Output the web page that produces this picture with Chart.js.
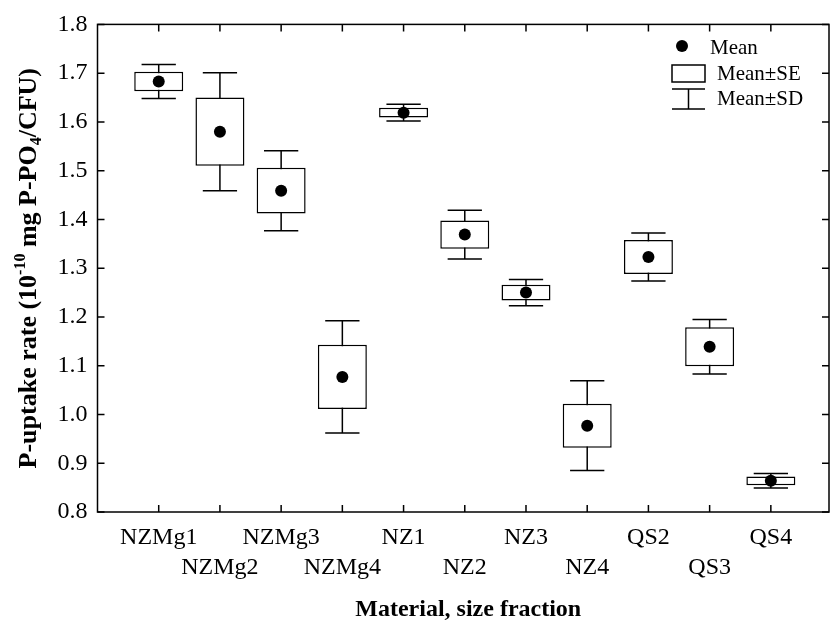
<!DOCTYPE html>
<html>
<head>
<meta charset="utf-8">
<script src="https://cdn.jsdelivr.net/npm/chart.js@4"></script>
<style>
  body { margin: 0; background: #fff; }
  #wrap { width: 835px; height: 623px; }
</style>
</head>
<body>
<div id="wrap"><canvas id="chart" width="835" height="623"></canvas></div>
<script>
// valeurs
const categories = ['NZMg1', 'NZMg2', 'NZMg3', 'NZMg4', 'NZ1', 'NZ2', 'NZ3', 'NZ4', 'QS2', 'QS3', 'QS4']
const means = [1.683, 1.580, 1.459, 1.077, 1.619, 1.369, 1.250, 0.977, 1.323, 1.139, 0.864]
const se = [0.020, 0.070, 0.047, 0.066, 0.010, 0.029, 0.016, 0.045, 0.035, 0.040, 0.009]
const sd = [0.035, 0.121, 0.082, 0.115, 0.017, 0.050, 0.027, 0.092, 0.049, 0.056, 0.015]
const yTicks = [0.8, 0.9, 1.0, 1.1, 1.2, 1.3, 1.4, 1.5, 1.6, 1.7, 1.8]

const serif = "'Liberation Serif', 'Times New Roman', serif"

// moustaches (Mean±SD) dessinées sous les boîtes
const whiskers = {
    id: 'whiskers',
    beforeDatasetsDraw(chart) {
        const ctx = chart.ctx
        const x = chart.scales.x
        const y = chart.scales.y
        ctx.save()
        ctx.strokeStyle = '#000'
        ctx.lineWidth = 1.5
        for (let i = 0; i < categories.length; i++) {
            const px = x.getPixelForValue(i)
            const half = x.getPixelForValue(i + 0.28) - px
            const top = y.getPixelForValue(means[i] + sd[i])
            const bot = y.getPixelForValue(means[i] - sd[i])
            ctx.beginPath()
            ctx.moveTo(px, top); ctx.lineTo(px, bot)
            ctx.moveTo(px - half, top); ctx.lineTo(px + half, top)
            ctx.moveTo(px - half, bot); ctx.lineTo(px + half, bot)
            ctx.stroke()
        }
        ctx.restore()
    }
}

// cadre, graduations vers l'intérieur, titres et légende
const frame = {
    id: 'frame',
    afterDraw(chart) {
        const ctx = chart.ctx
        const a = chart.chartArea
        const x = chart.scales.x
        const y = chart.scales.y
        ctx.save()
        ctx.strokeStyle = '#000'
        ctx.lineWidth = 1.5
        ctx.strokeRect(a.left, a.top, a.right - a.left, a.bottom - a.top)
        ctx.beginPath()
        yTicks.forEach(v => {
            const py = y.getPixelForValue(v)
            ctx.moveTo(a.left, py); ctx.lineTo(a.left + 7, py)
            ctx.moveTo(a.right, py); ctx.lineTo(a.right - 7, py)
        })
        categories.forEach((c, i) => {
            const px = x.getPixelForValue(i)
            ctx.moveTo(px, a.bottom); ctx.lineTo(px, a.bottom - 7)
            ctx.moveTo(px, a.top); ctx.lineTo(px, a.top + 7)
        })
        ctx.stroke()

        // titre axe X
        ctx.fillStyle = '#000'
        ctx.font = 'bold 24px ' + serif
        ctx.textAlign = 'center'
        ctx.textBaseline = 'middle'
        ctx.fillText('Material, size fraction', (a.left + a.right) / 2 + 5, 610)

        // titre axe Y avec exposant et indice
        const parts = [
            { t: 'P-uptake rate (10', f: 'bold 26px ' + serif, dy: 0 },
            { t: '-10', f: 'bold 16px ' + serif, dy: -11 },
            { t: ' mg P-PO', f: 'bold 26px ' + serif, dy: 0 },
            { t: '4', f: 'bold 16px ' + serif, dy: 5 },
            { t: '/CFU)', f: 'bold 26px ' + serif, dy: 0 }
        ]
        let total = 0
        parts.forEach(p => { ctx.font = p.f; p.w = ctx.measureText(p.t).width; total += p.w })
        ctx.translate(36, (a.top + a.bottom) / 2)
        ctx.rotate(-Math.PI / 2)
        ctx.textAlign = 'left'
        ctx.textBaseline = 'alphabetic'
        let cx = -total / 2
        parts.forEach(p => {
            ctx.font = p.f
            ctx.fillText(p.t, cx, p.dy)
            cx += p.w
        })
        ctx.restore()

        // légende
        ctx.save()
        ctx.fillStyle = '#000'
        ctx.strokeStyle = '#000'
        ctx.lineWidth = 1.5
        ctx.beginPath()
        ctx.arc(682, 46, 6, 0, Math.PI * 2)
        ctx.fill()
        ctx.strokeRect(672, 65, 33, 17)
        ctx.beginPath()
        ctx.moveTo(672, 89); ctx.lineTo(705, 89)
        ctx.moveTo(672, 109); ctx.lineTo(705, 109)
        ctx.moveTo(688.5, 89); ctx.lineTo(688.5, 109)
        ctx.stroke()
        ctx.font = '21px ' + serif
        ctx.textAlign = 'left'
        ctx.textBaseline = 'middle'
        ctx.fillText('Mean', 710, 48)
        ctx.fillText('Mean\u00B1SE', 717, 74)
        ctx.fillText('Mean\u00B1SD', 717, 99)
        ctx.restore()
    }
}

const boxData = categories.map((c, i) => ({ x: i, y: [means[i] - se[i], means[i] + se[i]] }))
const meanData = categories.map((c, i) => ({ x: i, y: means[i] }))

new Chart(document.getElementById('chart').getContext('2d'), {
    type: 'bar',
    data: {
        datasets: [
            {
                type: 'scatter',
                label: 'Mean',
                data: meanData,
                pointRadius: 6,
                pointBackgroundColor: '#000',
                pointBorderColor: '#000',
                pointBorderWidth: 0,
                order: 0
            },
            {
                type: 'bar',
                label: 'Mean±SE',
                data: boxData,
                backgroundColor: '#fff',
                borderColor: '#000',
                borderWidth: 1.5,
                borderSkipped: false,
                categoryPercentage: 1,
                barPercentage: 0.8,
                order: 1
            }
        ]
    },
    options: {
        responsive: false,
        animation: false,
        layout: { padding: { top: 19.5, right: 3, left: 0, bottom: 0 } },
        plugins: {
            legend: { display: false },
            tooltip: { enabled: false }
        },
        scales: {
            x: {
                type: 'linear',
                min: -1,
                max: 10.95,
                offset: false,
                grid: { display: false, offset: false, drawTicks: false },
                border: { display: false },
                afterBuildTicks: scale => {
                    scale.ticks = categories.map((c, i) => ({ value: i }))
                },
                afterFit: scale => { scale.height = 111 },
                ticks: {
                    autoSkip: false,
                    maxRotation: 0,
                    padding: 11,
                    color: '#000',
                    font: { family: serif, size: 24, lineHeight: 1.25 },
                    callback: v => (v % 2 ? ['', categories[v]] : categories[v])
                }
            },
            y: {
                min: 0.8,
                max: 1.8,
                grid: { display: false, drawTicks: false },
                border: { display: false },
                afterBuildTicks: scale => {
                    scale.ticks = yTicks.map(v => ({ value: v }))
                },
                afterFit: scale => { scale.width = 97.5 },
                ticks: {
                    padding: 10,
                    color: '#000',
                    font: { family: serif, size: 24 },
                    callback: v => v.toFixed(1)
                }
            }
        }
    },
    plugins: [whiskers, frame]
})
</script>
</body>
</html>
